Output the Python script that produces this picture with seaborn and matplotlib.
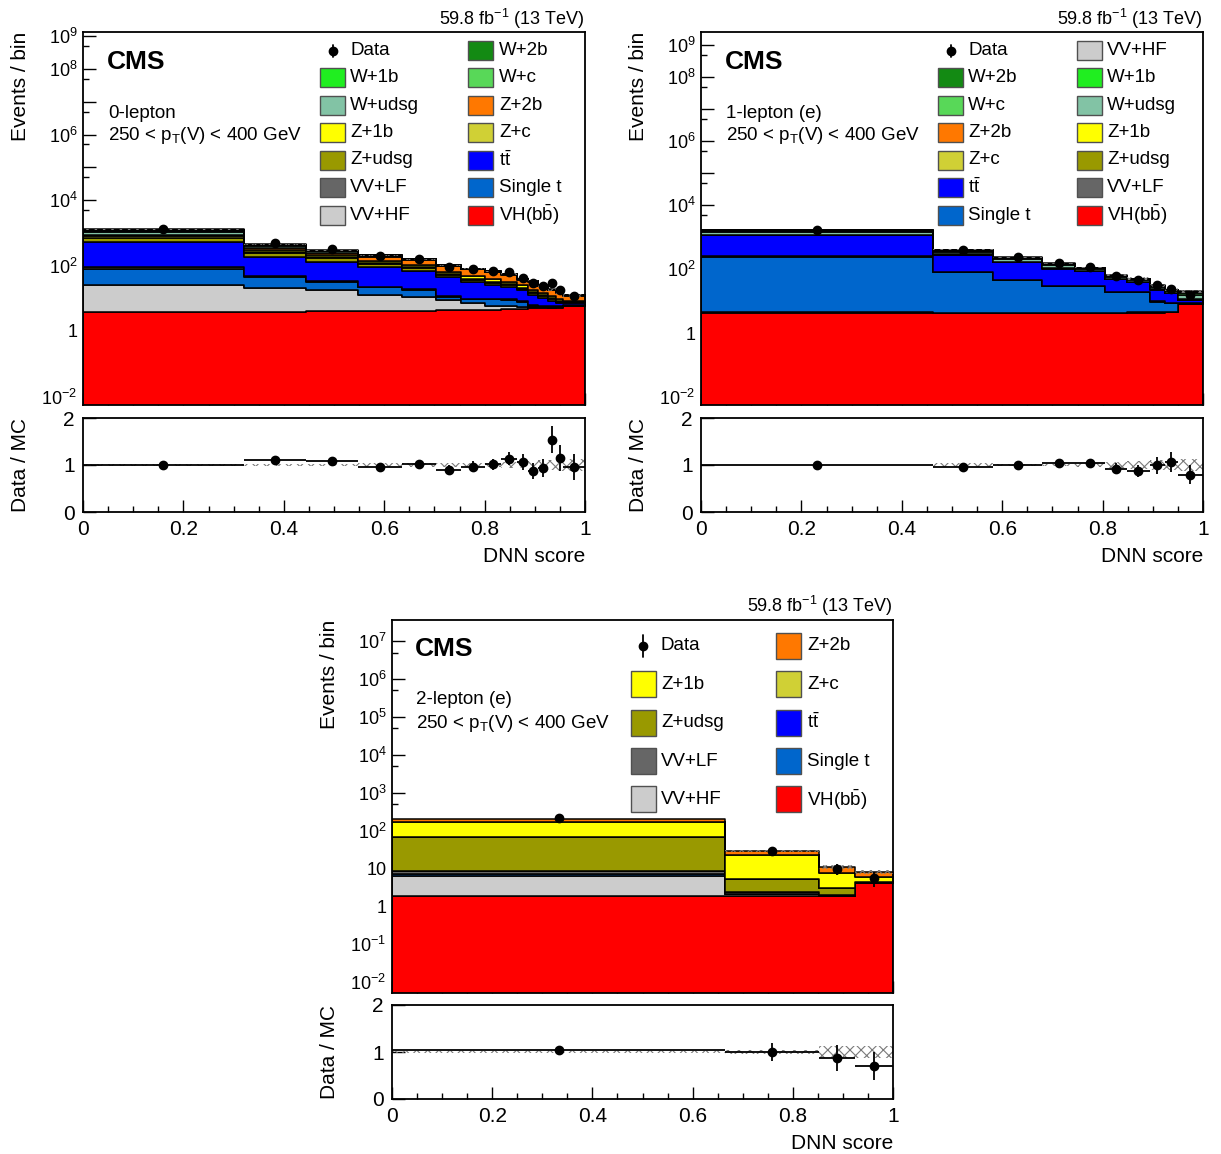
import numpy as np
import pandas as pd
import matplotlib
matplotlib.use('Agg')
import matplotlib.pyplot as plt
import seaborn as sns
from matplotlib.patches import Rectangle
from matplotlib.lines import Line2D
from matplotlib.ticker import FixedLocator, FuncFormatter, MultipleLocator

sns.set_style('ticks')
plt.rcParams['font.family'] = ['Liberation Sans', 'DejaVu Sans']
plt.rcParams['mathtext.fontset'] = 'custom'
plt.rcParams['mathtext.rm'] = 'Liberation Sans'
plt.rcParams['mathtext.it'] = 'Liberation Sans:italic'
plt.rcParams['mathtext.bf'] = 'Liberation Sans:bold'
plt.rcParams['mathtext.default'] = 'regular'
plt.rcParams['hatch.linewidth'] = 0.8
plt.rcParams['hatch.color'] = '#7a7a7a'
for key in ['text.color', 'axes.labelcolor', 'xtick.color', 'ytick.color', 'axes.edgecolor']:
    plt.rcParams[key] = 'black'

# first entry sits on top of the stack, VH(bb) at the bottom
PROCESSES = ['W+2b', 'W+1b', 'W+c', 'W+udsg', 'Z+2b', 'Z+1b', 'Z+c', 'Z+udsg',
             'tt', 'VV+LF', 'Single t', 'VV+HF', 'VH']
LABELS = {'tt': r't$\bar{t}$', 'VH': r'VH(b$\bar{b}$)'}
COLORS = {
    'W+2b': '#138a13', 'W+1b': '#20ee20', 'W+c': '#58d858', 'W+udsg': '#82c3a5',
    'Z+2b': '#ff7800', 'Z+1b': '#ffff00', 'Z+c': '#d0d035', 'Z+udsg': '#999900',
    'tt': '#0000ff', 'VV+LF': '#666666', 'Single t': '#0066cc', 'VV+HF': '#cccccc',
    'VH': '#ff0000',
}

# ---- 0-lepton ----
edges_0l = [0, 0.32, 0.444, 0.548, 0.635, 0.704, 0.753, 0.80, 0.832, 0.865,
            0.886, 0.907, 0.926, 0.943, 0.957, 1.0]
yields_0l = {
    'W+2b':     [50, 11, 5, 2, 1, 0.6, 0.5, 0.5, 0.3, 0.2, 0.2, 0.15, 0.05, 0.05, 0.02],
    'W+1b':     [50, 12, 6, 2, 1, 0.6, 0.5, 0.5, 0.4, 0.3, 0.2, 0.15, 0.1, 0.05, 0.03],
    'W+c':      [100, 25, 10, 5, 2, 1.2, 1, 0.8, 0.8, 0.5, 0.4, 0.2, 0.15, 0.1, 0.05],
    'W+udsg':   [200, 60, 25, 12, 7, 4, 3, 2.5, 2, 1.2, 1, 0.6, 0.5, 0.3, 0.2],
    'Z+2b':     [40, 40, 40, 45, 45, 30, 28, 24, 19, 12, 13.5, 9, 6.3, 5.5, 3.6],
    'Z+1b':     [50, 35, 25, 18, 14, 10, 8, 6, 5, 3.5, 2.5, 2, 1.5, 1, 0.6],
    'Z+c':      [80, 25, 15, 10, 6, 4, 3, 3, 2, 1.5, 1.2, 0.8, 0.6, 0.4, 0.3],
    'Z+udsg':   [170, 60, 35, 20, 12, 7, 5, 4, 3, 2, 1.5, 1.2, 1, 0.6, 0.4],
    'tt':       [438, 130, 95, 68.5, 50, 32, 22, 15, 13, 9.5, 6.5, 4.5, 2.6, 1.2, 0.8],
    'VV+LF':    [14, 2, 2, 1, 1, 0.5, 0.5, 0.5, 0.4, 0.3, 0.3, 0.2, 0.2, 0.2, 0.2],
    'Single t': [53, 25, 14, 9, 7, 2.2, 2.3, 3.5, 3.2, 2.3, 0.6, 0.4, 0.3, 0.4, 0.3],
    'VV+HF':    [21.2, 16.1, 14, 8.4, 6.8, 4.5, 2.6, 1.3, 0.9, 0.7, 0.5, 0.3, 0.2, 0.2, 0.2],
    'VH':       [3.8, 3.9, 4.0, 4.1, 4.2, 4.3, 4.4, 4.5, 4.7, 4.8, 4.9, 5.0, 5.0, 5.2, 5.6],
}
data_0l = [1260, 490, 316, 195, 160, 91, 78, 67, 62, 41.5, 29, 23, 28.5, 17.5, 11.7]
unc_0l = [0.02, 0.03, 0.03, 0.04, 0.04, 0.05, 0.05, 0.05, 0.06, 0.07, 0.08, 0.10,
          0.11, 0.12, 0.12]

# ---- 1-lepton (e) ----
edges_1l = [0, 0.463, 0.581, 0.680, 0.746, 0.804, 0.848, 0.894, 0.924, 0.950, 1.0]
yields_1l = {
    'W+2b':     [40, 10, 6, 4, 2.5, 1.6, 1, 0.7, 0.5, 1.2],
    'W+1b':     [45, 12, 7, 5, 2.5, 1.6, 1, 0.8, 0.5, 1.2],
    'W+c':      [110, 28, 16, 10, 5.5, 3.5, 2.4, 1.8, 1.2, 2.2],
    'W+udsg':   [280, 60, 35, 24, 12, 8, 5.5, 4, 2.4, 4],
    'Z+2b':     [4, 1, 1, 1, 0.5, 0.3, 0.2, 0.2, 0.1, 0.2],
    'Z+1b':     [5, 2, 1, 1, 0.5, 0.3, 0.2, 0.2, 0.1, 0.2],
    'Z+c':      [6, 2, 1, 1, 0.5, 0.3, 0.2, 0.2, 0.1, 0.1],
    'Z+udsg':   [20, 5, 3, 2, 1, 0.8, 0.5, 0.4, 0.3, 0.3],
    'tt':       [889, 194, 118, 72, 56, 28, 20, 13, 9, 1.8],
    'VV+LF':    [15, 3, 2, 1.5, 1, 0.8, 0.6, 0.4, 0.3, 0.3],
    'Single t': [241.5, 75.3, 39.9, 24.7, 24.5, 14.4, 14.3, 5.0, 3.9, 0.6],
    'VV+HF':    [0.5, 0.2, 0.1, 0.1, 0.1, 0.1, 0.1, 0.1, 0.1, 0.1],
    'VH':       [4.1, 4.1, 4.1, 4.1, 4.2, 4.2, 4.3, 4.3, 4.4, 7.8],
}
data_1l = [1660, 380, 234, 157, 115, 59, 44, 31, 24.5, 15.9]
unc_1l = [0.01, 0.04, 0.03, 0.03, 0.04, 0.07, 0.09, 0.10, 0.11, 0.12]

# ---- 2-lepton (e) ----
edges_2l = [0, 0.665, 0.852, 0.924, 1.0]
yields_2l = {
    'Z+2b':     [30, 6.6, 3.4, 2.3],
    'Z+1b':     [102, 17, 4.5, 1.4],
    'Z+c':      [2.4, 0.2, 0.15, 0.05],
    'Z+udsg':   [57, 2.8, 0.98, 0.1],
    'tt':       [0.3, 0.05, 0.02, 0.02],
    'VV+LF':    [1.4, 0.2, 0.03, 0.02],
    'Single t': [0.8, 0.05, 0.02, 0.02],
    'VV+HF':    [4.33, 0.2, 0.03, 0.02],
    'VH':       [1.87, 1.87, 1.87, 4.2],
}
data_2l = [209, 29, 9.6, 5.7]
unc_2l = [0.02, 0.04, 0.12, 0.12]

W, H = 1221, 1154


def rect(x0, y0, x1, y1):
    return [x0 / W, 1 - y1 / H, (x1 - x0) / W, (y1 - y0) / H]


def ftext(fig, x, y, s, **kw):
    kw.setdefault('va', 'center')
    fig.text(x / W, 1 - y / H, s, **kw)


def log_formatter(labeled):
    def fmt(v, pos):
        e = int(round(np.log10(v)))
        if e not in labeled:
            return ''
        if e == 0:
            return '1'
        if e == 1:
            return '10'
        return r'$10^{%d}$' % e
    return FuncFormatter(fmt)


def draw_panel(fig, main_box, ratio_box, edges, yields, data, unc, ylog, labeled):
    bins = list(edges)
    edges = np.array(edges)
    centers = 0.5 * (edges[:-1] + edges[1:])
    half = 0.5 * np.diff(edges)
    order = [p for p in PROCESSES if p in yields]

    rows = []
    for proc in order:
        for c, v in zip(centers, yields[proc]):
            rows.append((c, v, proc))
    df = pd.DataFrame(rows, columns=['score', 'events', 'process'])
    total = df.groupby('score')['events'].sum().values
    data = np.array(data)
    unc = np.array(unc)

    ax = fig.add_axes(rect(*main_box))
    sns.histplot(df, x='score', weights='events', hue='process', hue_order=order,
                 bins=bins, multiple='stack', element='step', palette=COLORS,
                 alpha=1, edgecolor='black', linewidth=1.1, legend=False, ax=ax)
    ax.set_yscale('log')
    ax.stairs(total * (1 + unc), edges, baseline=total * (1 - unc), fill=True,
              facecolor='none', edgecolor='#7a7a7a', hatch='xxxx', linewidth=0,
              zorder=4)
    ax.errorbar(centers, data, yerr=np.sqrt(data), fmt='o', color='black',
                ms=6, elinewidth=1.3, capsize=0, zorder=5)
    ax.set_xlim(0, 1)
    ax.set_ylim(10 ** ylog[0], 10 ** ylog[1])
    decades = np.arange(int(np.floor(ylog[0])), int(np.ceil(ylog[1])) + 1)
    ax.yaxis.set_major_locator(FixedLocator(10.0 ** decades))
    ax.yaxis.set_minor_locator(FixedLocator(5 * 10.0 ** decades))
    ax.yaxis.set_major_formatter(log_formatter(labeled))
    ax.xaxis.set_major_locator(MultipleLocator(0.2))
    ax.xaxis.set_minor_locator(MultipleLocator(0.05))
    ax.tick_params(which='both', direction='in', top=False, right=False)
    ax.tick_params(which='major', length=9, width=1)
    ax.tick_params(which='minor', length=4.5, width=1)
    ax.tick_params(axis='y', labelsize=13, pad=4)
    ax.tick_params(axis='x', labelbottom=False)
    ax.set_xlabel('')
    ax.set_ylabel('Events / bin', loc='top', fontsize=15)
    ax.yaxis.set_label_coords(-0.106, 1.0)
    for s in ax.spines.values():
        s.set_linewidth(1.3)

    rx = fig.add_axes(rect(*ratio_box))
    rx.stairs(1 + unc, edges, baseline=1 - unc, fill=True, facecolor='none',
              edgecolor='#7a7a7a', hatch='xxx', linewidth=0)
    rx.errorbar(centers, data / total, yerr=np.sqrt(data) / total, xerr=half,
                fmt='o', color='black', ms=6, elinewidth=1.3, capsize=0)
    rx.set_xlim(0, 1)
    rx.set_ylim(0, 2)
    rx.set_yticks([0, 1, 2])
    rx.xaxis.set_major_locator(MultipleLocator(0.2))
    rx.xaxis.set_minor_locator(MultipleLocator(0.05))
    rx.xaxis.set_major_formatter(FuncFormatter(lambda v, p: '%g' % round(v, 2)))
    rx.tick_params(which='both', direction='in', top=False, right=False)
    rx.tick_params(which='major', length=9, width=1, labelsize=15, pad=6)
    rx.tick_params(which='minor', length=4.5, width=1)
    rx.set_ylabel('Data / MC', fontsize=15)
    rx.yaxis.set_label_coords(-0.106, 0.5)
    rx.set_xlabel('DNN score', loc='right', fontsize=15)
    rx.xaxis.set_label_coords(1.0, -0.37)
    for s in rx.spines.values():
        s.set_linewidth(1.3)
    return ax, rx


def draw_legend(fig, entries, box_x, text_x, row_y, box_w, box_h, err):
    for i, key in enumerate(entries):
        r, c = divmod(i, 2)
        x, y = box_x[c], row_y[r]
        if key == 'Data':
            xc = x + box_w / 2
            fig.add_artist(Line2D([xc / W], [1 - y / H], marker='o', ms=6,
                                  color='black', transform=fig.transFigure))
            fig.add_artist(Line2D([xc / W, xc / W], [1 - (y - err) / H, 1 - (y + err) / H],
                                  color='black', lw=1.3, transform=fig.transFigure))
        else:
            fig.add_artist(Rectangle((x / W, 1 - (y + box_h / 2) / H), box_w / W, box_h / H,
                                     facecolor=COLORS[key], edgecolor='#505050', lw=1,
                                     transform=fig.transFigure))
        ftext(fig, text_x[c], y, LABELS.get(key, key), fontsize=13.5)


fig = plt.figure(figsize=(W / 100, H / 100), dpi=100)

draw_panel(fig, (83, 32, 585, 405), (83, 418, 585, 512), edges_0l, yields_0l,
           data_0l, unc_0l, (-2.26, 9.13), {-2, 0, 2, 4, 6, 8, 9})
draw_panel(fig, (701, 32, 1203, 405), (701, 418, 1203, 512), edges_1l, yields_1l,
           data_1l, unc_1l, (-2.25, 9.41), {-2, 0, 2, 4, 6, 8, 9})
draw_panel(fig, (392, 620, 893, 993), (392, 1005, 893, 1099), edges_2l, yields_2l,
           data_2l, unc_2l, (-2.29, 7.56), set(range(-2, 8)))

rows_top = [50.5, 77.5, 105, 132.5, 160, 187.5, 215]
draw_legend(fig, ['Data', 'W+2b', 'W+1b', 'W+c', 'W+udsg', 'Z+2b', 'Z+1b', 'Z+c',
                  'Z+udsg', 'tt', 'VV+LF', 'Single t', 'VV+HF', 'VH'],
            (320, 468), (350, 499), rows_top, 25, 19, 6)
draw_legend(fig, ['Data', 'VV+HF', 'W+2b', 'W+1b', 'W+c', 'W+udsg', 'Z+2b', 'Z+1b',
                  'Z+c', 'Z+udsg', 'tt', 'VV+LF', 'Single t', 'VH'],
            (938, 1077), (968, 1107), rows_top, 25, 19, 6)
draw_legend(fig, ['Data', 'Z+2b', 'Z+1b', 'Z+c', 'Z+udsg', 'tt', 'VV+LF',
                  'Single t', 'VV+HF', 'VH'],
            (631, 776), (661, 807), [646, 684.3, 722.7, 761, 799.3], 25, 26, 11)

lumi = r'59.8 fb$^{-1}$ (13 TeV)'
for (xr, yl, xt, yt, region) in [(585, 19, 107, 62, '0-lepton'),
                                  (1203, 19, 725, 62, '1-lepton (e)'),
                                  (893, 606, 415, 649, '2-lepton (e)')]:
    ftext(fig, xr, yl, lumi, ha='right', fontsize=13)
    ftext(fig, xt, yt, 'CMS', fontsize=19, fontweight='bold')
    ftext(fig, xt + 1, yt + 51, region, fontsize=13.5)
    ftext(fig, xt + 1, yt + 74, r'250 < p$_{T}$(V) < 400 GeV', fontsize=13.5)

fig.savefig('out.png', dpi=100)
